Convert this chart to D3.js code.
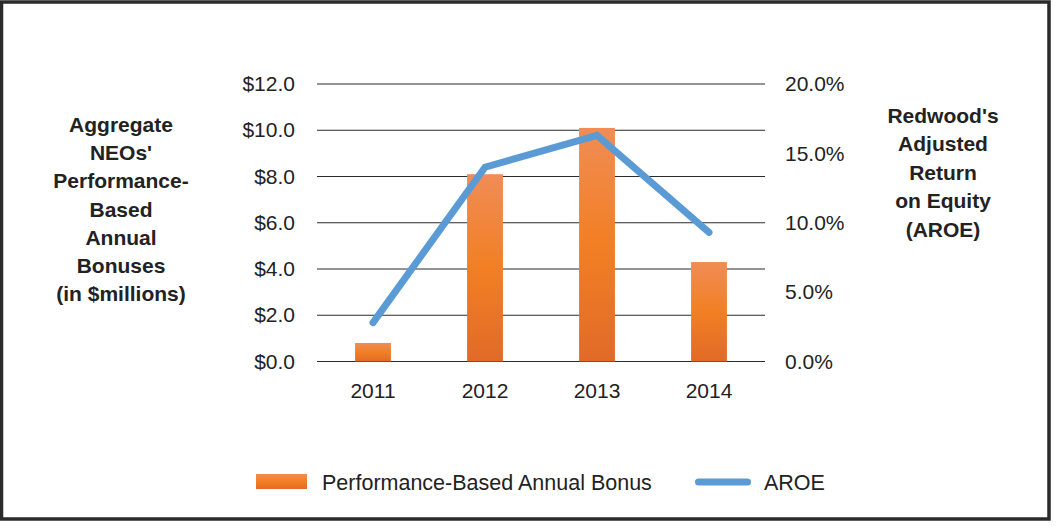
<!DOCTYPE html>
<html>
<head>
<meta charset="utf-8">
<script src="https://cdn.jsdelivr.net/npm/d3@7"></script>
<style>
  body { margin: 0; background: #fff; }
  svg text { font-family: "Liberation Sans", Arial, sans-serif; fill: #222; }
</style>
</head>
<body>
<svg id="chart" width="1057" height="530"></svg>
<script>
const years = ['2011', '2012', '2013', '2014'];
const bonus = [0.8, 8.1, 10.1, 4.3];          // $ millions
const aroe = [2.8, 14.0, 16.3, 9.3];          // percent
const leftTicks = [0, 2, 4, 6, 8, 10, 12];
const rightTicks = [0, 5, 10, 15, 20];
const leftTitle = ['Aggregate', "NEOs'", 'Performance-', 'Based', 'Annual', 'Bonuses', '(in $millions)'];
const rightTitle = ["Redwood's", 'Adjusted', 'Return', 'on Equity', '(AROE)'];

const svg = d3.select('#chart');
const margin = {left: 317, right: 765, top: 84, bottom: 361.5};
const tickFont = 21;

// frame
svg.append('rect')
    .attr('x', 1.5).attr('y', 2)
    .attr('width', 1047.5).attr('height', 517)
    .attr('fill', 'none')
    .attr('stroke', '#2a2a2a')
    .attr('stroke-width', 3.5);

const defs = svg.append('defs');
const grad = defs.append('linearGradient')
    .attr('id', 'barGrad')
    .attr('x1', 0).attr('y1', 0).attr('x2', 0).attr('y2', 1);
grad.append('stop').attr('offset', '0%').attr('stop-color', '#F08C55');
grad.append('stop').attr('offset', '50%').attr('stop-color', '#F27F23');
grad.append('stop').attr('offset', '100%').attr('stop-color', '#E26A28');

const x = d3.scaleBand()
    .domain(years)
    .range([margin.left, margin.right])
    .paddingInner(0.68)
    .paddingOuter(0.34);

const yL = d3.scaleLinear().domain([0, 12]).range([margin.bottom, margin.top]);
const yR = d3.scaleLinear().domain([0, 20]).range([margin.bottom, margin.top]);

// gridlines
svg.append('g').selectAll('line').data(leftTicks)
    .enter().append('line')
        .attr('x1', margin.left).attr('x2', margin.right)
        .attr('y1', d => yL(d)).attr('y2', d => yL(d))
        .attr('stroke', '#2b2b2b')
        .attr('stroke-width', 1.2);

// left axis
const leftAxis = svg.append('g')
    .attr('transform', `translate(${margin.left - 22},0)`)
    .call(d3.axisLeft(yL).tickValues(leftTicks).tickSize(0).tickPadding(0)
        .tickFormat(d => '$' + d.toFixed(1)));
leftAxis.select('.domain').remove();
leftAxis.selectAll('text').attr('font-size', tickFont).attr('fill', '#222');

// right axis
const rightAxis = svg.append('g')
    .attr('transform', `translate(${margin.right + 20},0)`)
    .call(d3.axisRight(yR).tickValues(rightTicks).tickSize(0).tickPadding(0)
        .tickFormat(d => d.toFixed(1) + '%'));
rightAxis.select('.domain').remove();
rightAxis.selectAll('text').attr('font-size', tickFont).attr('fill', '#222');

// x axis
const xAxis = svg.append('g')
    .attr('transform', `translate(0,${margin.bottom + 21})`)
    .call(d3.axisBottom(x).tickSize(0).tickPadding(0));
xAxis.select('.domain').remove();
xAxis.selectAll('text').attr('font-size', tickFont).attr('fill', '#222').attr('dy', '0.72em');

// bars
svg.append('g').selectAll('rect').data(years)
    .enter().append('rect')
        .attr('x', d => x(d))
        .attr('y', (d, i) => yL(bonus[i]))
        .attr('width', x.bandwidth())
        .attr('height', (d, i) => yL(0) - yL(bonus[i]))
        .attr('fill', 'url(#barGrad)');

// AROE line
const line = d3.line()
    .x((d, i) => x(years[i]) + x.bandwidth() / 2)
    .y(d => yR(d));
svg.append('path')
    .datum(aroe)
    .attr('d', line)
    .attr('fill', 'none')
    .attr('stroke', '#5B9BD5')
    .attr('stroke-width', 7)
    .attr('stroke-linecap', 'round')
    .attr('stroke-linejoin', 'miter');

// axis titles
svg.append('text')
    .attr('x', 121).attr('y', 132)
    .attr('text-anchor', 'middle')
    .attr('font-size', 21).attr('font-weight', 'bold')
    .selectAll('tspan').data(leftTitle)
    .enter().append('tspan')
        .attr('x', 121)
        .attr('dy', (d, i) => i === 0 ? 0 : 28.2)
        .text(d => d);

svg.append('text')
    .attr('x', 943).attr('y', 123)
    .attr('text-anchor', 'middle')
    .attr('font-size', 21).attr('font-weight', 'bold')
    .selectAll('tspan').data(rightTitle)
    .enter().append('tspan')
        .attr('x', 943)
        .attr('dy', (d, i) => i === 0 ? 0 : 28.4)
        .text(d => d);

// legend
const legend = svg.append('g');
legend.append('rect')
    .attr('x', 256).attr('y', 474)
    .attr('width', 51).attr('height', 15)
    .attr('fill', 'url(#barGrad)');
legend.append('text')
    .attr('x', 322).attr('y', 482)
    .attr('dy', '0.35em')
    .attr('font-size', 21.5)
    .text('Performance-Based Annual Bonus');
legend.append('line')
    .attr('x1', 698.5).attr('x2', 747.5)
    .attr('y1', 482).attr('y2', 482)
    .attr('stroke', '#5B9BD5')
    .attr('stroke-width', 7)
    .attr('stroke-linecap', 'round');
legend.append('text')
    .attr('x', 764).attr('y', 482)
    .attr('dy', '0.35em')
    .attr('font-size', 21.5)
    .text('AROE');
</script>
</body>
</html>
